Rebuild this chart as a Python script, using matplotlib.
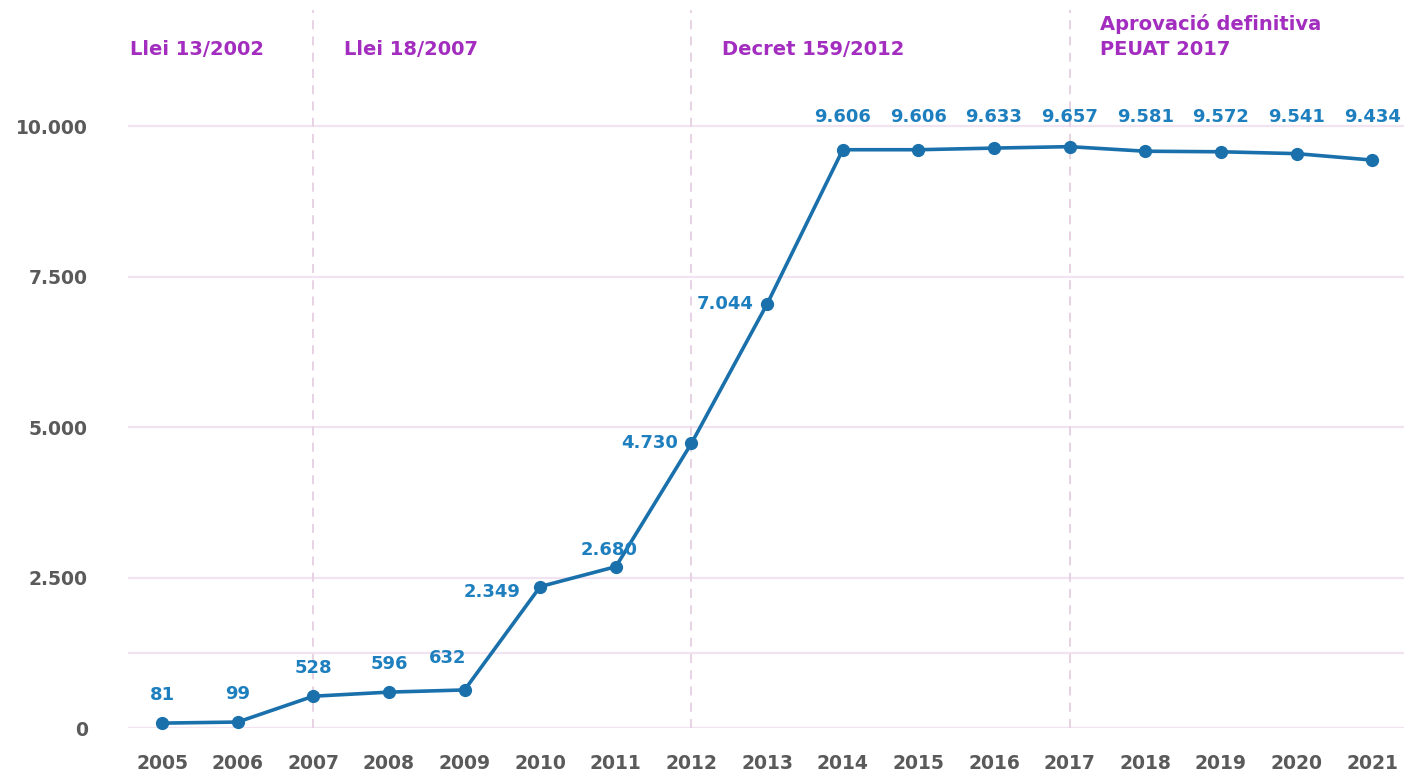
import matplotlib
matplotlib.use("Agg")
import matplotlib.pyplot as plt

years = [2005, 2006, 2007, 2008, 2009, 2010, 2011, 2012, 2013,
         2014, 2015, 2016, 2017, 2018, 2019, 2020, 2021]
values = [81, 99, 528, 596, 632, 2349, 2680, 4730, 7044,
          9606, 9606, 9633, 9657, 9581, 9572, 9541, 9434]
value_labels = ["81", "99", "528", "596", "632", "2.349", "2.680", "4.730", "7.044",
                "9.606", "9.606", "9.633", "9.657", "9.581", "9.572", "9.541", "9.434"]
ytick_values = [0, 2500, 5000, 7500, 10000]
ytick_labels = ["0", "2.500", "5.000", "7.500", "10.000"]
grid_values = [0, 1250, 2500, 5000, 7500, 10000]
event_years = [2007, 2012, 2017]
event_texts = ["Llei 13/2002", "Llei 18/2007", "Decret 159/2012",
               "Aprovació definitiva", "PEUAT 2017"]

FONT = ["DejaVu Sans"]
WEIGHT = "bold"
LINE_C = "#1a70ab"
LABEL_C = "#1e7fbe"
PURPLE = "#a22dbf"
GRAY = "#5a5a5a"

fig = plt.figure(figsize=(14.04, 7.76), dpi=100)
ax = fig.add_axes([128/1404, 48/776, 1 - 128/1404, (728-10)/776])
ax.set_xlim(2004.55, 2021.42)
ax.set_ylim(0, 11927)
for s in ax.spines.values():
    s.set_visible(False)

for g in grid_values:
    ax.axhline(g, color="#f1e3ef", lw=1.6, zorder=1)
for ey in event_years:
    ax.axvline(ey, color="#e6cfe2", lw=1.3, ls=(0, (5, 4)), zorder=1)

ax.plot(years, values, color=LINE_C, lw=2.6, marker="o", ms=8.5,
        zorder=3, clip_on=False)

lab_kw = dict(color=LABEL_C, fontsize=13, fontweight=WEIGHT, family=FONT, zorder=4)
for x, v, t in zip(years, values, value_labels):
    if v >= 9000:
        ax.annotate(t, (x, 10150), ha="center", va="center", **lab_kw)
    elif x == 2009:
        ax.annotate(t, (x, v), xytext=(-12, 23), textcoords="offset points",
                    ha="center", va="center", **lab_kw)
    elif x == 2010:
        ax.annotate(t, (x, v), xytext=(-14, -4), textcoords="offset points",
                    ha="right", va="center", **lab_kw)
    elif x == 2011:
        ax.annotate(t, (x, v), xytext=(-5, 12), textcoords="offset points",
                    ha="center", va="center", **lab_kw)
    elif x in (2012, 2013):
        ax.annotate(t, (x, v), xytext=(-10, 0), textcoords="offset points",
                    ha="right", va="center", **lab_kw)
    else:
        ax.annotate(t, (x, v), xytext=(0, 20), textcoords="offset points",
                    ha="center", va="center", **lab_kw)

ev_kw = dict(color=PURPLE, fontsize=14, fontweight=WEIGHT, family=FONT,
             va="baseline", ha="left")
ax.text(2004.57, 11180, event_texts[0], **ev_kw)
ax.text(event_years[0] + 0.4, 11180, event_texts[1], **ev_kw)
ax.text(event_years[1] + 0.4, 11180, event_texts[2], **ev_kw)
ax.text(event_years[2] + 0.4, 11600, event_texts[3], **ev_kw)
ax.text(event_years[2] + 0.4, 11180, event_texts[4], **ev_kw)

ax.set_xticks(years)
ax.set_xticklabels([str(y) for y in years])
ax.set_yticks(ytick_values)
ax.set_yticklabels(ytick_labels)
ax.tick_params(axis="both", length=0, labelcolor=GRAY)
ax.tick_params(axis="x", pad=19)
ax.tick_params(axis="y", pad=29)
for lbl in ax.get_xticklabels() + ax.get_yticklabels():
    lbl.set_fontfamily(FONT)
    lbl.set_fontweight(WEIGHT)
    lbl.set_fontsize(13.5)

fig.savefig("out.png", dpi=100, facecolor="white")
